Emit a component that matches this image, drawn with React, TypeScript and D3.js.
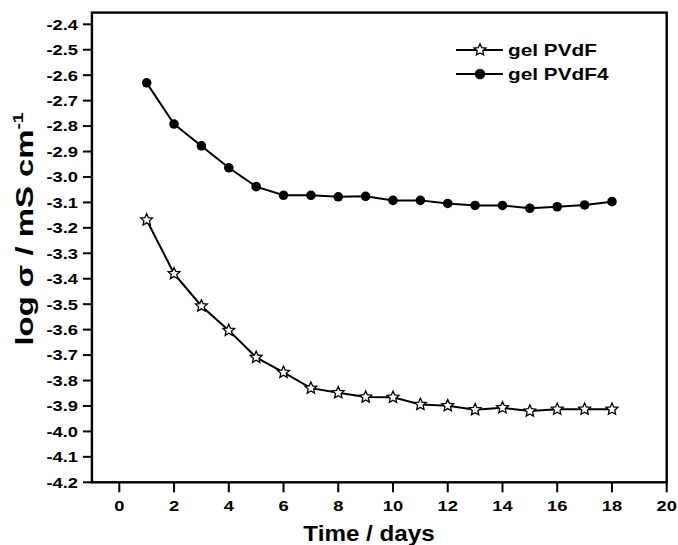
import React from "react";
import * as d3 from "d3";

const days = [1, 2, 3, 4, 5, 6, 7, 8, 9, 10, 11, 12, 13, 14, 15, 16, 17, 18];
const gelPVdF = [-3.169, -3.38, -3.507, -3.603, -3.709, -3.768, -3.83, -3.848, -3.865, -3.866, -3.894, -3.899, -3.915, -3.907, -3.92, -3.913, -3.913, -3.913];
const gelPVdF4 = [-2.63, -2.792, -2.878, -2.964, -3.038, -3.072, -3.072, -3.078, -3.076, -3.092, -3.092, -3.104, -3.112, -3.112, -3.123, -3.117, -3.11, -3.097];
const xTicks = [0, 2, 4, 6, 8, 10, 12, 14, 16, 18, 20];
const yTicks = d3.range(0, 19).map((i) => -4.2 + i * 0.1);
const seriesNames = ["gel PVdF", "gel PVdF4"];

const FONT = "'Liberation Sans', Arial, sans-serif";

function starPath(ro: number, ri: number): string {
  const pts: [number, number][] = [];
  for (let i = 0; i < 10; i++) {
    const a = -Math.PI / 2 + (i * Math.PI) / 5;
    const r = i % 2 === 0 ? ro : ri;
    pts.push([r * Math.cos(a), r * Math.sin(a)]);
  }
  return "M" + pts.map((p) => p[0].toFixed(2) + "," + p[1].toFixed(2)).join("L") + "Z";
}

export default function App() {
  const x = d3.scaleLinear().domain([0, 20]).range([119.3, 666.7]);
  const y = d3.scaleLinear().domain([-4.2, -2.4]).range([482.3, 24.3]);
  const left = x(-1);
  const right = x(20);
  const top = y(-2.354);
  const bottom = y(-4.2);

  const line = d3
    .line<number>()
    .x((_, i) => x(days[i]))
    .y((d) => y(d));

  const star = starPath(6.2, 2.9);

  return (
    <svg
      width={678}
      height={545}
      style={{ position: "absolute", left: 0, top: 0, background: "#fff", display: "block" }}
    >
      <rect x={0} y={0} width={678} height={545} fill="#fff" />
      {/* frame */}
      <rect x={left} y={top} width={right - left} height={bottom - top} fill="none" stroke="#000" strokeWidth={2.4} />
      {/* y ticks */}
      {yTicks.map((t, i) => (
        <g key={"y" + i}>
          <line x1={left - 9} x2={left} y1={y(t)} y2={y(t)} stroke="#000" strokeWidth={2} />
          <text
            transform={`translate(${left - 14},${y(t)}) scale(1.22,1)`}
            textAnchor="end"
            dy="0.36em"
            fontFamily={FONT}
            fontWeight="bold"
            fontSize={15}
            fill="#000"
          >
            {t.toFixed(1)}
          </text>
        </g>
      ))}
      {/* x ticks */}
      {xTicks.map((t, i) => (
        <g key={"x" + i}>
          <line x1={x(t)} x2={x(t)} y1={bottom} y2={bottom + 10} stroke="#000" strokeWidth={2} />
          <text
            transform={`translate(${x(t)},${511}) scale(1.22,1)`}
            textAnchor="middle"
            fontFamily={FONT}
            fontWeight="bold"
            fontSize={15}
            fill="#000"
          >
            {t}
          </text>
        </g>
      ))}
      {/* axis titles */}
      <text
        transform={`translate(${369},${541}) scale(1.1,1)`}
        textAnchor="middle"
        fontFamily={FONT}
        fontWeight="bold"
        fontSize={22}
        fill="#000"
      >
        Time / days
      </text>
      <text
        transform={`translate(${33},${229}) rotate(-90) scale(1.37,1)`}
        textAnchor="middle"
        fontFamily={FONT}
        fontWeight="bold"
        fontSize={24}
        fill="#000"
      >
        log σ / mS cm<tspan dy={-10} fontSize={14}>-1</tspan>
      </text>
      {/* series lines */}
      <path d={line(gelPVdF4) || ""} fill="none" stroke="#000" strokeWidth={2} />
      <path d={line(gelPVdF) || ""} fill="none" stroke="#000" strokeWidth={2} />
      {gelPVdF4.map((v, i) => (
        <circle key={"c" + i} cx={x(days[i])} cy={y(v)} r={4.8} fill="#000" />
      ))}
      {gelPVdF.map((v, i) => (
        <path key={"s" + i} d={star} transform={`translate(${x(days[i])},${y(v)})`} fill="#fff" stroke="#000" strokeWidth={1.3} />
      ))}
      {/* legend */}
      <g>
        <line x1={456} x2={503} y1={50} y2={50} stroke="#000" strokeWidth={2} />
        <path d={star} transform="translate(480,50)" fill="#fff" stroke="#000" strokeWidth={1.3} />
        <text transform="translate(508,55.5) scale(1.3,1)" fontFamily={FONT} fontWeight="bold" fontSize={16} fill="#000">
          {seriesNames[0]}
        </text>
        <line x1={456} x2={503} y1={74} y2={74} stroke="#000" strokeWidth={2} />
        <circle cx={480} cy={74} r={5.2} fill="#000" />
        <text transform="translate(508,79.5) scale(1.3,1)" fontFamily={FONT} fontWeight="bold" fontSize={16} fill="#000">
          {seriesNames[1]}
        </text>
      </g>
    </svg>
  );
}
